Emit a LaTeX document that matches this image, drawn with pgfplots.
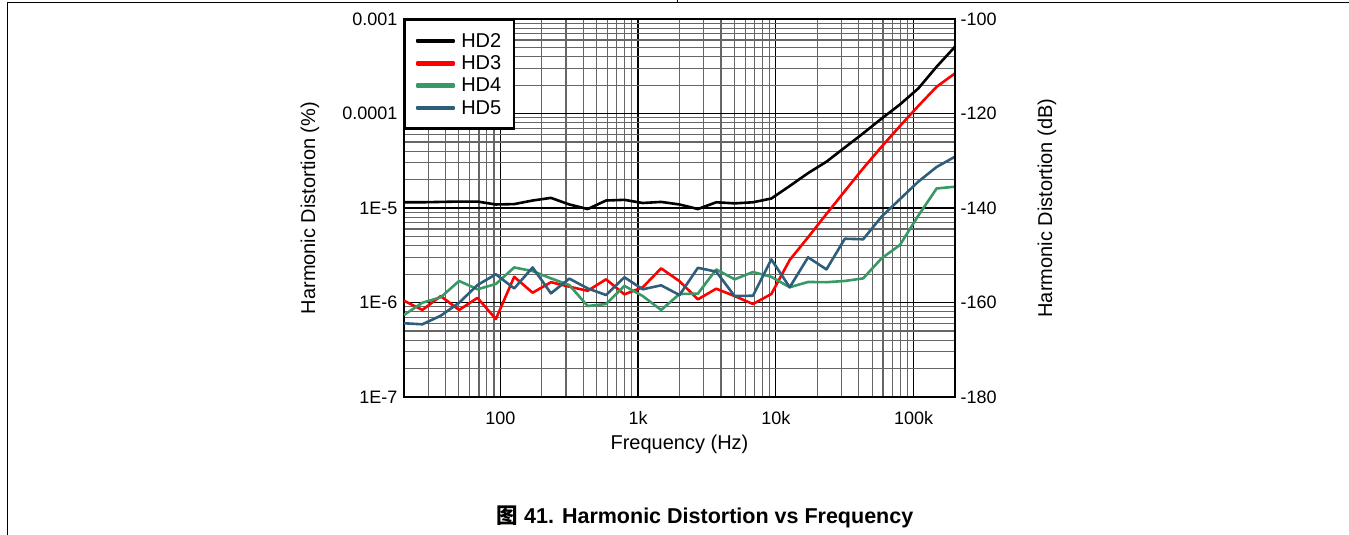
\documentclass[border=0pt]{standalone}
\usepackage{pgfplots}
\pgfplotsset{compat=1.18}
\usepackage{pgfplotstable}
\usepackage{fontspec}
\setmainfont{Liberation Sans}
\newfontfamily\cjk{Noto Sans CJK SC}
\definecolor{hdred}{RGB}{255,0,0}
\definecolor{hdgreen}{RGB}{56,152,102}
\definecolor{hdblue}{RGB}{47,94,122}

\pgfplotstableread{
f       hd2       hd3       hd4       hd5
20      1.15e-5   1.045e-6  7.38e-7   6.03e-7
27.19   1.15e-5   8.34e-7   9.95e-7   5.88e-7
36.96   1.16e-5   1.17e-6   1.135e-6  7.25e-7
50.24   1.17e-5   8.34e-7   1.69e-6   9.95e-7
68.30   1.17e-5   1.12e-6   1.38e-6   1.53e-6
92.83   1.09e-5   6.68e-7   1.57e-6   1.99e-6
126.2   1.10e-5   1.87e-6   2.35e-6   1.41e-6
171.6   1.20e-5   1.27e-6   2.15e-6   2.35e-6
233.2   1.28e-5   1.64e-6   1.80e-6   1.25e-6
317.0   1.09e-5   1.47e-6   1.53e-6   1.79e-6
430.9   0.975e-5  1.33e-6   9.18e-7   1.41e-6
585.8   1.20e-5   1.76e-6   9.64e-7   1.20e-6
796.2   1.22e-5   1.22e-6   1.50e-6   1.85e-6
1082    1.13e-5   1.45e-6   1.17e-6   1.38e-6
1471    1.16e-5   2.30e-6   8.34e-7   1.52e-6
2000    1.09e-5   1.68e-6   1.23e-6   1.20e-6
2719    0.975e-5  1.08e-6   1.24e-6   2.33e-6
3696    1.15e-5   1.40e-6   2.24e-6   2.12e-6
5024    1.12e-5   1.17e-6   1.76e-6   1.17e-6
6830    1.15e-5   9.64e-7   2.10e-6   1.18e-6
9283    1.26e-5   1.23e-6   1.87e-6   2.86e-6
12619   1.71e-5   2.82e-6   1.45e-6   1.45e-6
17154   2.34e-5   4.90e-6   1.65e-6   3.01e-6
23318   3.09e-5   8.65e-6   1.64e-6   2.24e-6
31698   4.37e-5   1.51e-5   1.69e-6   4.73e-6
43089   6.17e-5   2.63e-5   1.80e-6   4.67e-6
58574   8.83e-5   4.45e-5   2.93e-6   8.09e-6
79623   1.245e-4  7.36e-5   4.06e-6   1.24e-5
108237  1.84e-4   1.20e-4   8.30e-6   1.90e-5
147134  3.13e-4   1.92e-4   1.61e-5   2.72e-5
200000  5.09e-4   2.66e-4   1.68e-5   3.49e-5
}\hddata

\begin{document}
\begin{tikzpicture}[x=1pt,y=1pt,font=\fontsize{18}{21}\selectfont]
\useasboundingbox (0,0) rectangle (1349,535);
\draw[line width=1pt] (7,0) -- (7,532) -- (1349,532);
\draw[line width=1pt] (677,532) -- (677,535);
\begin{axis}[
  at={(404pt,138pt)}, anchor=south west,
  scale only axis, width=551pt, height=378pt,
  xmode=log, ymode=log,
  xmin=20, xmax=200000, ymin=1e-7, ymax=1e-3,
  xtick={100,1000,10000,100000},
  xticklabels={100,1k,10k,100k},
  ytick={1e-7,1e-6,1e-5,1e-4,1e-3},
  yticklabels={1E-7,1E-6,1E-5,0.0001,0.001},
  minor xtick={20,30,40,50,60,70,80,90,200,300,400,500,600,700,800,900,2000,3000,4000,5000,6000,7000,8000,9000,20000,30000,40000,50000,60000,70000,80000,90000},
  minor ytick={2e-7,3e-7,4e-7,5e-7,6e-7,7e-7,8e-7,9e-7,2e-6,3e-6,4e-6,5e-6,6e-6,7e-6,8e-6,9e-6,2e-5,3e-5,4e-5,5e-5,6e-5,7e-5,8e-5,9e-5,2e-4,3e-4,4e-4,5e-4,6e-4,7e-4,8e-4,9e-4},
  grid=both,
  major grid style={black, line width=1.1pt},
  minor grid style={black!60, line width=1.1pt},
  major tick length=0pt, minor tick length=0pt,
  axis line style={line width=2.4pt},
  xticklabel style={font=\fontsize{18}{21}\selectfont, yshift=-11pt},
  yticklabel style={font=\fontsize{18}{21}\selectfont, xshift=-3pt},
  xlabel={Frequency (Hz)},
  ylabel={Harmonic Distortion (\%)},
  label style={font=\fontsize{20}{23}\selectfont},
  xlabel style={at={(axis description cs:0.5,-0.125)}, anchor=center},
  ylabel style={at={(axis description cs:-0.1706,0.5)}, anchor=center},
  legend style={at={(0,1)}, anchor=north west, draw=black, line width=2.4pt,
     font=\fontsize{20}{22}\selectfont, inner xsep=10.5pt, inner ysep=11pt, row sep=3pt,
     column sep=4pt, cells={anchor=west}},
  legend image code/.code={\fill[#1] (0pt,-1.05pt) rectangle (37pt,1.05pt);},
]
\addplot[black, line width=2.6pt, line join=round] table[x=f,y=hd2] {\hddata};
\addplot[hdred, line width=2.6pt, line join=round] table[x=f,y=hd3] {\hddata};
\addplot[hdgreen, line width=2.6pt, line join=round] table[x=f,y=hd4] {\hddata};
\addplot[hdblue, line width=2.6pt, line join=round] table[x=f,y=hd5] {\hddata};
\legend{HD2,HD3,HD4,HD5}
\end{axis}
\begin{axis}[
  at={(404pt,138pt)}, anchor=south west,
  scale only axis, width=551pt, height=378pt,
  axis x line=none, axis y line*=right,
  xmin=0, xmax=1, ymin=-180, ymax=-100,
  ytick={-180,-160,-140,-120,-100},
  yticklabels={-180,-160,-140,-120,-100},
  major tick length=0pt,
  axis line style={line width=2.4pt},
  yticklabel style={font=\fontsize{18}{21}\selectfont, xshift=2pt},
  ylabel={Harmonic Distortion (dB)},
  ylabel style={font=\fontsize{20}{23}\selectfont, at={(axis description cs:1.167,0.5)}, anchor=center},
]
\end{axis}
\node[font=\fontsize{21.5}{24}\selectfont\bfseries] at (705,18) {{\cjk\bfseries 图} 41. Harmonic Distortion vs Frequency};
\end{tikzpicture}
\end{document}
